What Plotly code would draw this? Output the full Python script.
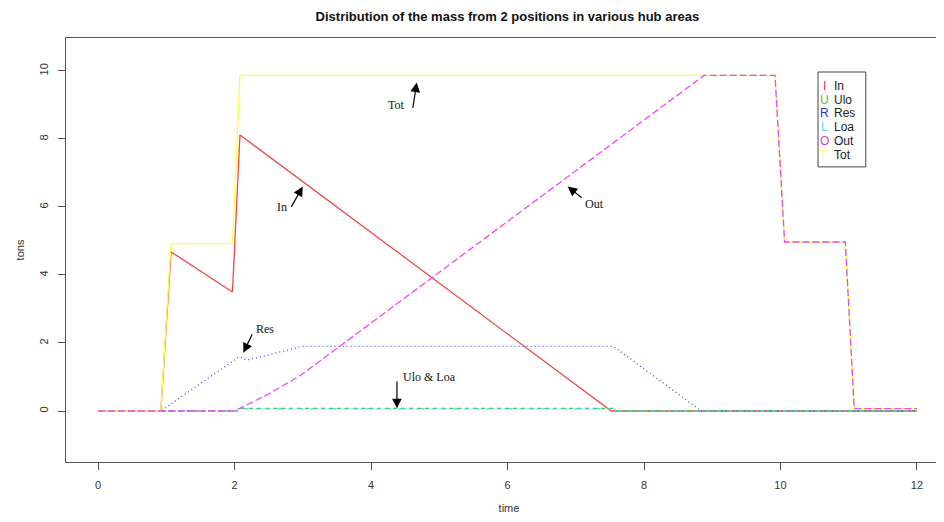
import plotly.graph_objects as go

# breakpoints (time, tons)
in_t = [0, 0.92, 1.07, 1.97, 2.08, 7.52, 12]
in_y = [0, 0, 4.68, 3.5, 8.12, 0, 0]

ulo_t = [0, 2.05, 2.1, 7.55, 7.6, 12]
ulo_y = [0, 0, 0.08, 0.08, 0.0, 0.0]

res_t = [0, 0.92, 2.07, 2.18, 2.3, 2.98, 7.55, 8.84, 12]
res_y = [0, 0, 1.6, 1.5, 1.55, 1.9, 1.9, 0, 0]

loa_t = [0, 2.05, 2.1, 7.55, 7.6, 12]
loa_y = [0, 0, 0.06, 0.06, 0.0, 0.0]

out_t = [0, 2.0, 2.5, 2.97, 8.88, 9.92, 10.06, 10.95, 11.08, 12]
out_y = [0, 0, 0.5, 1.05, 9.87, 9.87, 4.97, 4.97, 0.07, 0.07]

tot_t = [0, 0.92, 1.07, 1.97, 2.08, 9.92, 10.06, 10.95, 11.08, 12]
tot_y = [0, 0, 4.92, 4.92, 9.87, 9.87, 4.97, 4.97, 0.07, 0.07]

names = ['In', 'Ulo', 'Res', 'Loa', 'Out', 'Tot']
letters = ['I', 'U', 'R', 'L', 'O', 'T']
line_cols = ['#ec4a4a', '#3ccc3c', '#4a4aee', '#40dada', '#ee48ee', '#ffff3a']
letter_cols = ['#e03030', '#50c050', '#3030c8', '#60d8e8', '#cc40cc', '#ffff80']
dashes = ['solid', '4px,4px', '1px,3px', '1px,3px,4px,3px', '7px,3px', 'solid']

series = [(in_t, in_y), (ulo_t, ulo_y), (res_t, res_y),
          (loa_t, loa_y), (tot_t, tot_y), (out_t, out_y)]
order = [0, 1, 2, 3, 5, 4]  # Tot drawn under Out, like the picture

fig = go.Figure()
for (tt, yy), i in zip(series, order):
    fig.add_trace(go.Scatter(x=tt, y=yy, mode='lines', name=names[i],
                             line=dict(color=line_cols[i], width=1.3, dash=dashes[i]),
                             showlegend=False, hoverinfo='skip'))

axis_col = '#555555'
# page body adds 8px offset, so margins are reduced to compensate
fig.update_layout(
    width=944, height=522,
    margin=dict(l=58, r=0, t=30, b=68),
    paper_bgcolor='white', plot_bgcolor='white',
    font=dict(family='Liberation Sans, Arial, sans-serif', size=11, color='#333333'),
    title=dict(text='<b>Distribution of the mass from 2 positions in various hub areas</b>',
               x=0.529, xanchor='center', y=0.984, yanchor='middle',
               font=dict(size=13, color='#111111')),
    xaxis=dict(range=[-0.469, 12.513], tickvals=[0, 2, 4, 6, 8, 10, 12],
               showgrid=False, zeroline=False, showline=True, mirror=True,
               linecolor=axis_col, linewidth=1, ticks='outside', ticklen=7,
               tickcolor=axis_col, ticklabelstandoff=6, automargin=False,
               title=dict(text='time', standoff=14, font=dict(size=11))),
    yaxis=dict(range=[-1.5, 10.97], tickvals=[0, 2, 4, 6, 8, 10],
               showgrid=False, zeroline=False, showline=True, mirror=False,
               linecolor=axis_col, linewidth=1, ticks='outside', ticklen=7,
               tickcolor=axis_col, tickangle=-90, ticklabelstandoff=6, automargin=False,
               title=dict(text='tons', standoff=10, font=dict(size=11))),
)

# legend box with coloured letters
fig.add_shape(type='rect', x0=10.55, x1=11.25, y0=7.18, y1=9.97,
              line=dict(color='#444444', width=1), fillcolor='white')
leg_y = [9.56, 9.15, 8.76, 8.35, 7.94, 7.53]
for i in range(6):
    fig.add_annotation(x=10.64, y=leg_y[i], text=letters[i], showarrow=False,
                       font=dict(size=12, color=letter_cols[i]), xanchor='center')
    fig.add_annotation(x=10.76, y=leg_y[i], text=names[i], showarrow=False,
                       font=dict(size=12, color='#222222'), xanchor='left')

# arrow labels
serif = 'Liberation Serif, Times New Roman, serif'
labels = [('Tot', 4.37, 9.0), ('In', 2.7, 6.0), ('Out', 7.28, 6.08),
          ('Res', 2.45, 2.4), ('Ulo & Loa', 4.86, 0.99)]
for txt, lx, ly in labels:
    fig.add_annotation(x=lx, y=ly, text=txt, showarrow=False,
                       font=dict(family=serif, size=12, color='#111111'))

arrows = [(4.67, 9.66, 4.61, 8.87), (3.0, 6.6, 2.82, 5.96),
          (6.88, 6.6, 7.11, 6.24), (2.13, 1.71, 2.27, 2.3),
          (4.38, 0.08, 4.38, 0.91)]
for tx, ty, sx, sy in arrows:
    fig.add_annotation(x=tx, y=ty, ax=sx, ay=sy, axref='x', ayref='y',
                       text='', showarrow=True, arrowhead=2, arrowsize=1.6,
                       arrowwidth=1.2, arrowcolor='black')

fig.write_html('out.html')
